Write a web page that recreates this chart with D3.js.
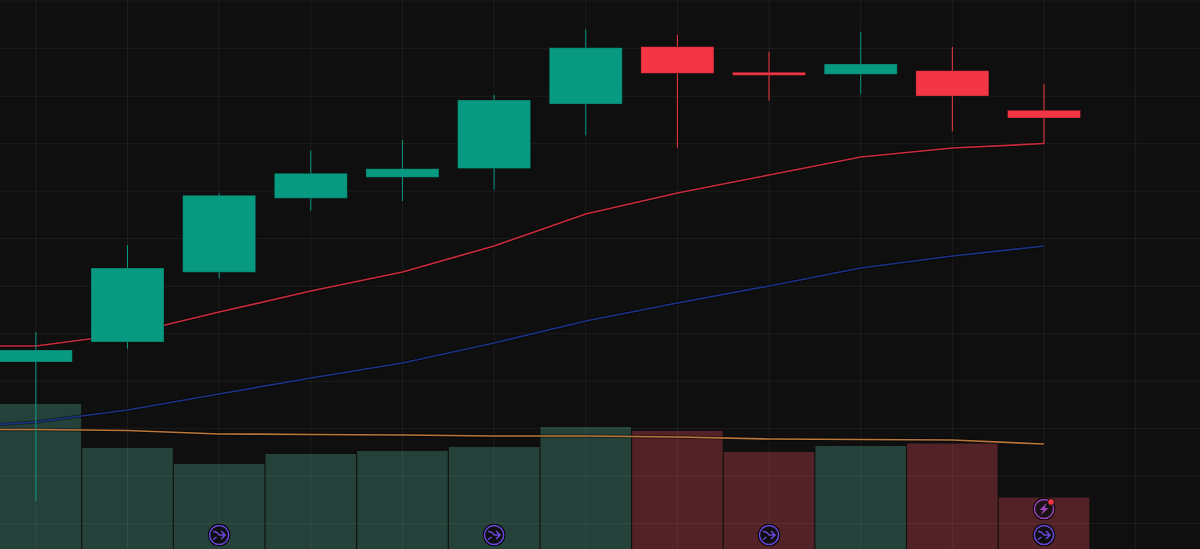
<!DOCTYPE html>
<html>
<head>
<meta charset="utf-8">
<script src="https://cdn.jsdelivr.net/npm/d3@7"></script>
<style>
  html, body { margin: 0; padding: 0; background: #0f0f0f; overflow: hidden; }
  svg { display: block; }
  .grid line { stroke: #fff; stroke-opacity: 0.06; }
  .grid path { display: none; }
</style>
</head>
<body>
<div id="chart"></div>
<script>
const width = 1200;
const height = 549;

// session index, -1 is the bar just off the left edge (only the averages show it)
const sessions = [0, 1, 2, 3, 4, 5, 6, 7, 8, 9, 10, 11];
const lineSessions = [-1, 0, 1, 2, 3, 4, 5, 6, 7, 8, 9, 10, 11];

const open  = [238, 258, 327.7, 401.7, 422.7, 431.5, 496, 553.3, 527.7, 525.7, 529.3, 489.7];
const close = [250, 332, 404.7, 426.7, 431.3, 500, 552.3, 526.7, 524.7, 536, 504, 482];
const high  = [268, 355, 406.7, 449.3, 460, 505, 570.7, 565, 548.3, 568.3, 553, 516];
const low   = [99, 251.3, 321.5, 389.3, 399, 410.3, 464.7, 452.3, 499.3, 506, 468.7, 456.3];

const volume = [145, 101, 85, 95, 98, 102, 122, 118, 97, 103, 105.5, 51.5];

const maFast = [254, 254, 266, 288, 309, 328, 354, 386, 407, 425, 443, 452, 456.5];
const maSlow = [172, 178, 190, 206, 222, 237, 257, 279, 297, 314, 332, 344, 354];
const volMa  = [119.5, 119.5, 118.5, 115, 114.5, 114, 113, 113, 112, 110, 109.5, 109, 105];

const priceTicks = [598.8, 551.3, 503.8, 456.3, 408.8, 361.3, 313.8, 266.3, 218.8, 171.3, 123.8, 76.3];
const timeTicks = [0, 1, 2, 3, 4, 5, 6, 7, 8, 9, 10, 11, 12];

const splitMarks = [2, 5, 8, 11];
const earningsMarks = [11];

const x = d3.scaleLinear().domain([0, 11]).range([35.85, 1044]);
const y = d3.scaleLinear().domain([600, 51]).range([0, height]);
const yVol = d3.scaleLinear().domain([0, 549]).range([height, 0]);

const barStep = x(1) - x(0);
const volWidth = barStep - 1.1;
const bodyWidth = 73;

const upColor = "#089981";
const downColor = "#f23645";

const svg = d3.select("#chart").append("svg")
  .attr("width", width)
  .attr("height", height);

svg.append("rect")
  .attr("width", width)
  .attr("height", height)
  .attr("fill", "#0f0f0f");

// volume sits under the grid
svg.append("g")
  .selectAll("rect")
  .data(sessions)
  .join("rect")
    .attr("x", i => x(i) - volWidth / 2)
    .attr("y", i => yVol(volume[i]))
    .attr("width", volWidth)
    .attr("height", i => height - yVol(volume[i]))
    .attr("fill", i => close[i] >= open[i] ? "#25423a" : "#532226");

svg.append("g")
  .attr("class", "grid")
  .attr("transform", `translate(0,${height})`)
  .call(d3.axisBottom(x).tickValues(timeTicks).tickSize(-height).tickFormat("").offset(0));

svg.append("g")
  .attr("class", "grid")
  .attr("transform", `translate(${width},0)`)
  .call(d3.axisLeft(y).tickValues(priceTicks).tickSize(width).tickFormat("").offset(0));

function drawLine(values, scale, color) {
  const line = d3.line()
    .x((d, i) => x(lineSessions[i]))
    .y(d => scale(d));

  svg.append("path")
    .attr("d", line(values))
    .attr("fill", "none")
    .attr("stroke", "#000")
    .attr("stroke-opacity", 0.45)
    .attr("stroke-width", 3.4);

  svg.append("path")
    .attr("d", line(values))
    .attr("fill", "none")
    .attr("stroke", color)
    .attr("stroke-width", 1.7);
}

drawLine(maSlow, y, "#1c3285");
drawLine(volMa, yVol, "#b9773c");
drawLine(maFast, y, "#c72c3e");

const candles = svg.append("g")
  .selectAll("g")
  .data(sessions)
  .join("g");

candles.append("line")
  .attr("x1", i => x(i))
  .attr("x2", i => x(i))
  .attr("y1", i => y(high[i]))
  .attr("y2", i => y(low[i]))
  .attr("stroke", i => close[i] >= open[i] ? upColor : downColor)
  .attr("stroke-width", 1);

candles.append("rect")
  .attr("x", i => x(i) - bodyWidth / 2)
  .attr("y", i => y(Math.max(open[i], close[i])))
  .attr("width", bodyWidth)
  .attr("height", i => Math.abs(y(open[i]) - y(close[i])))
  .attr("fill", i => close[i] >= open[i] ? upColor : downColor)
  .attr("stroke", "#000")
  .attr("stroke-opacity", 0.25)
  .attr("stroke-width", 1);

// event markers along the bottom edge
const splits = svg.append("g")
  .selectAll("g")
  .data(splitMarks)
  .join("g")
    .attr("transform", i => `translate(${x(i)},${height - 14})`);

splits.append("circle")
  .attr("r", 10.5)
  .attr("fill", "#0f0f0f")
  .attr("stroke", "#000")
  .attr("stroke-width", 1.5);

splits.append("circle")
  .attr("r", 9.6)
  .attr("fill", "#0f0f0f")
  .attr("stroke", "#6a48dc")
  .attr("stroke-width", 1.5);

splits.append("path")
  .attr("d", "M-6,-3.5 Q-2,-3.5 0,0 L6,0 M2,-4 L6,0 L2,4 M-6,4.5 L-2.5,2")
  .attr("fill", "none")
  .attr("stroke", "#6a48dc")
  .attr("stroke-width", 1.5);

const earnings = svg.append("g")
  .selectAll("g")
  .data(earningsMarks)
  .join("g")
    .attr("transform", i => `translate(${x(i)},${height - 40})`);

earnings.append("circle")
  .attr("r", 10.5)
  .attr("fill", "#1a1114")
  .attr("stroke", "#000")
  .attr("stroke-width", 1.5);

earnings.append("circle")
  .attr("r", 9.6)
  .attr("fill", "#1a1114")
  .attr("stroke", "#9c45b8")
  .attr("stroke-width", 1.5);

earnings.append("path")
  .attr("d", "M2.5,-6 L-4.5,1 L-0.8,1 L-3,6 L4.5,-1 L0.8,-1 Z")
  .attr("fill", "#9c45b8");

earnings.append("circle")
  .attr("cx", 7)
  .attr("cy", -7)
  .attr("r", 3.4)
  .attr("fill", downColor)
  .attr("stroke", "#0f0f0f")
  .attr("stroke-width", 1);
</script>
</body>
</html>
